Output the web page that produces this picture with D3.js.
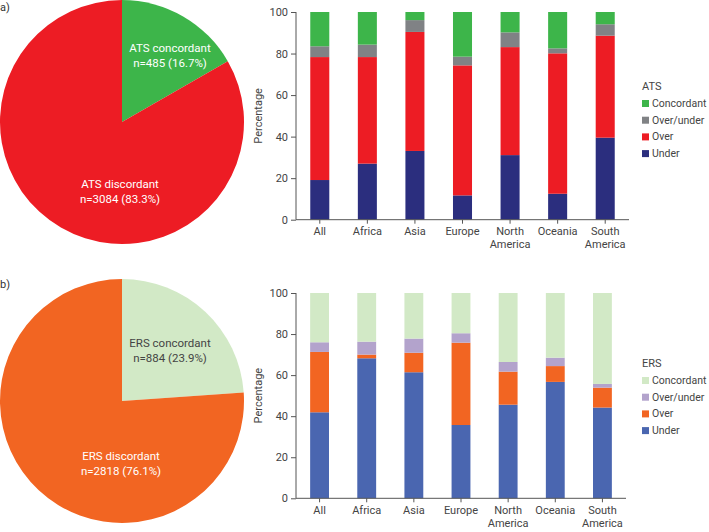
<!DOCTYPE html>
<html><head><meta charset="utf-8">
<script src="https://cdn.jsdelivr.net/npm/d3@7"></script>
<style>
body{margin:0;background:#fff;}
text{font-family:Roboto,"DejaVu Sans",sans-serif;}
</style></head>
<body><svg id="c" width="709" height="532"></svg>
<script>
const regions = ["All","Africa","Asia","Europe","North America","Oceania","South America"];
const keys = ["Under","Over","Over/under","Concordant"];
const legendOrder = ["Concordant","Over/under","Over","Under"];
const yTicks = [0,20,40,60,80,100];

// ATS (panel a) - percentages per region
const atsUnder = [19.1,27.0,33.1,11.7,31.1,12.5,39.5];
const atsOver = [59.2,51.3,57.3,62.6,52.0,67.6,49.1];
const atsOverUnder = [5.2,6.0,5.7,4.2,7.1,2.4,5.5];
const atsConcordant = [16.5,15.7,3.9,21.5,9.8,17.5,5.9];

// ERS (panel b)
const ersUnder = [41.9,68.2,61.4,35.7,45.6,56.7,44.2];
const ersOver = [29.4,1.8,9.5,40.1,16.1,7.7,9.7];
const ersOverUnder = [4.7,6.3,6.9,4.6,4.7,4.1,1.8];
const ersConcordant = [24.0,23.7,22.2,19.6,33.6,31.5,44.3];

// Pie data
const atsPieLabels = ["ATS concordant","ATS discordant"];
const atsPieN = [485,3084];
const atsPiePct = [16.7,83.3];
const ersPieLabels = ["ERS concordant","ERS discordant"];
const ersPieN = [884,2818];
const ersPiePct = [23.9,76.1];

const svg = d3.select("#c");

function pie(cfg){
  const g = svg.append("g").attr("transform",`translate(${cfg.cx},${cfg.cy})`);
  const data = cfg.pct.map((v,i)=>({v,i}));
  const arcs = d3.pie().value(d=>d.v).sort(null)(data);
  const arc = d3.arc().innerRadius(0).outerRadius(cfg.r);
  g.selectAll("path").data(arcs).join("path").attr("d",arc).attr("fill",d=>cfg.colors[d.data.i]);
  cfg.labelPos.forEach((p,i)=>{
    const lx = p[0]-cfg.cx, ly = p[1]-cfg.cy;
    const t = g.append("text").attr("x",lx).attr("y",ly).attr("text-anchor","middle")
      .attr("font-size",11.5).attr("fill",cfg.textColors[i]);
    t.append("tspan").attr("x",lx).text(cfg.labels[i]);
    t.append("tspan").attr("x",lx).attr("dy",14.5).text(`n=${cfg.n[i]} (${cfg.pct[i].toFixed(1)}%)`);
  });
}

function bars(cfg){
  const x = d3.scaleBand().domain(regions).range([cfg.x0,cfg.x1]).paddingInner(0.6).paddingOuter(0.3);
  const y = d3.scaleLinear().domain([0,100]).range([cfg.y0,cfg.y1]);
  const rows = regions.map((r,i)=>({region:r,"Under":cfg.vals[0][i],"Over":cfg.vals[1][i],"Over/under":cfg.vals[2][i],"Concordant":cfg.vals[3][i]}));
  const stack = d3.stack().keys(keys)(rows);
  const color = d3.scaleOrdinal().domain(keys).range(cfg.colors);
  const g = svg.append("g");
  g.selectAll("g.s").data(stack).join("g").attr("fill",d=>color(d.key))
    .selectAll("rect").data(d=>d).join("rect")
    .attr("x",d=>x(d.data.region)).attr("width",x.bandwidth())
    .attr("y",d=>y(Math.min(100,d[1]))).attr("height",d=>y(d[0])-y(Math.min(100,d[1])));
  const ya = g.append("g").attr("transform",`translate(${cfg.x0},0)`)
    .call(d3.axisLeft(y).tickValues(yTicks).tickSize(5).tickPadding(3));
  const xa = g.append("g").attr("transform",`translate(0,${cfg.y0})`)
    .call(d3.axisBottom(x).tickSize(4).tickPadding(4));
  [ya,xa].forEach(a=>{
    a.select(".domain").attr("stroke","#555");
    a.selectAll(".tick line").attr("stroke","#555");
    a.selectAll("text").attr("font-size",11).attr("fill","#444").attr("font-family","Roboto,sans-serif");
  });
  ya.select(".domain").attr("d",`M-0,${cfg.y0}V${cfg.y1}`);
  xa.select(".domain").attr("d",`M${cfg.x0},0H${cfg.x1}`);
  xa.selectAll(".tick text").each(function(d){
    const w = d.split(" ");
    const t = d3.select(this).text(null);
    w.forEach((s,i)=>t.append("tspan").attr("x",0).attr("dy",i===0?"0.71em":"1.15em").text(s));
  });
  g.append("text").attr("transform",`translate(${cfg.x0-34},${(cfg.y0+cfg.y1)/2}) rotate(-90)`)
    .attr("text-anchor","middle").attr("font-size",11).attr("fill","#444").text("Percentage");
  // legend
  const lg = g.append("g").attr("transform",`translate(${cfg.lx},${cfg.ly})`);
  lg.append("text").attr("x",0).attr("y",0).attr("font-size",11).attr("fill","#444").text(cfg.title);
  legendOrder.forEach((k,i)=>{
    const yy = 17 + i*16.7;
    lg.append("rect").attr("x",0).attr("y",yy-7).attr("width",7).attr("height",7).attr("fill",color(k));
    lg.append("text").attr("x",10).attr("y",yy).attr("font-size",10.5).attr("fill","#444").text(k);
  });
}

svg.append("text").attr("x",0).attr("y",11).attr("font-size",11).attr("fill","#333").text("a)");
svg.append("text").attr("x",0).attr("y",288).attr("font-size",11).attr("fill","#333").text("b)");

pie({cx:122,cy:122,r:122,n:atsPieN,pct:atsPiePct,labels:atsPieLabels,
  colors:["#3db54a","#ed1c24"],textColors:["#fff","#fff"],labelPos:[[170,52],[120,188]]});
pie({cx:122,cy:401,r:122,n:ersPieN,pct:ersPiePct,labels:ersPieLabels,
  colors:["#d2e9c6","#f26522"],textColors:["#444","#fff"],labelPos:[[170,347],[121,460]]});

bars({x0:296,x1:629,y0:219.7,y1:12,vals:[atsUnder,atsOver,atsOverUnder,atsConcordant],
  colors:["#2b2e7e","#ed1c24","#808285","#3db54a"],title:"ATS",lx:642,ly:90});
bars({x0:296,x1:626,y0:498.3,y1:293,vals:[ersUnder,ersOver,ersOverUnder,ersConcordant],
  colors:["#4a66b0","#f26522","#b3a3cc","#d2e9c6"],title:"ERS",lx:642,ly:367});
</script></body></html>
